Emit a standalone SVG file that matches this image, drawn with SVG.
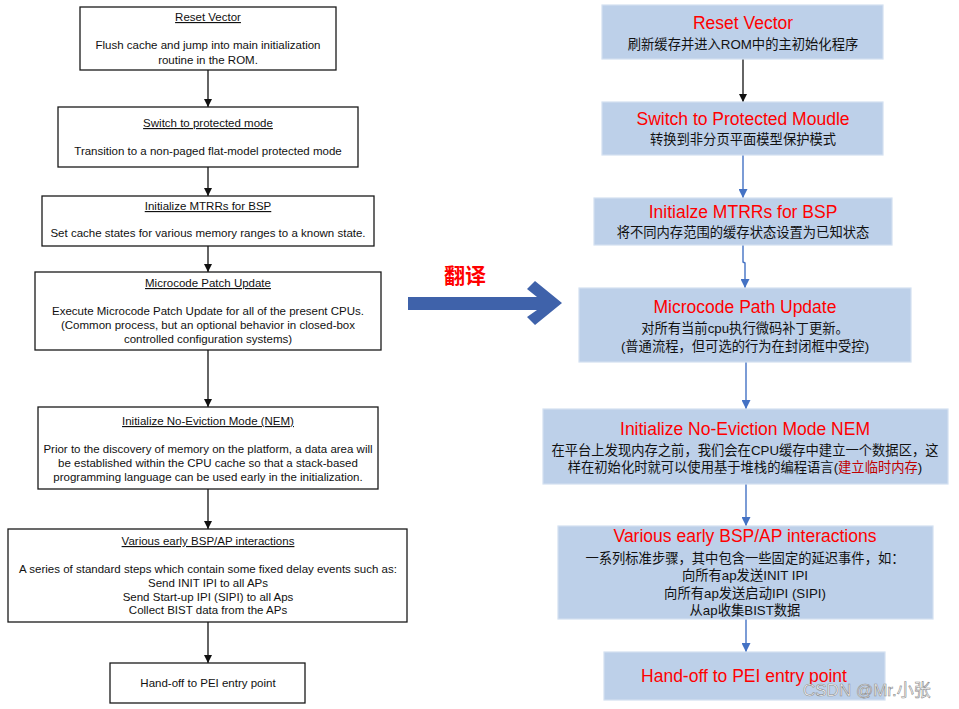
<svg xmlns="http://www.w3.org/2000/svg" width="959" height="709" viewBox="0 0 959 709">
<style>
  .lbox{fill:#ffffff;stroke:#1a1a1a;stroke-width:1.3}
  .lt{font-family:"Liberation Sans",Arial,sans-serif;font-size:11.5px;fill:#111;text-anchor:middle}
  .u{text-decoration:underline}
  .rbox{fill:#bdd0e9;stroke:#d3e0f1;stroke-width:1.2}
  .rt{font-family:"Liberation Sans","Noto Sans CJK SC",sans-serif;font-size:17.5px;fill:#ff0000;text-anchor:middle}
  .rs{font-family:"Liberation Sans","Noto Sans CJK SC",sans-serif;font-size:13.3px;fill:#111;text-anchor:middle}
  .red2{fill:#c00000}
  .lc{stroke:#111;stroke-width:1.3;fill:none}
  .bc{stroke:#4472c4;stroke-width:1.4;fill:none}
</style>
<defs>
  <marker id="ah" markerUnits="userSpaceOnUse" markerWidth="8" markerHeight="8" refX="8" refY="4" orient="auto">
    <path d="M0,0 L8,4 L0,8 z" fill="#111"/>
  </marker>
  <marker id="ahb" markerUnits="userSpaceOnUse" markerWidth="9" markerHeight="9" refX="9" refY="4.5" orient="auto">
    <path d="M0,0 L9,4.5 L0,9 z" fill="#4472c4"/>
  </marker>
</defs>
<rect width="959" height="709" fill="#ffffff"/>

<g id="connectors">
  <line class="lc" x1="208" y1="70" x2="208" y2="107" marker-end="url(#ah)"/>
  <line class="lc" x1="208" y1="167" x2="208" y2="196" marker-end="url(#ah)"/>
  <line class="lc" x1="208" y1="246" x2="208" y2="272" marker-end="url(#ah)"/>
  <line class="lc" x1="208" y1="350" x2="208" y2="407" marker-end="url(#ah)"/>
  <line class="lc" x1="208" y1="489" x2="208" y2="529" marker-end="url(#ah)"/>
  <line class="lc" x1="208" y1="622" x2="208" y2="663" marker-end="url(#ah)"/>

  <line class="lc" x1="743" y1="59" x2="743" y2="102" marker-end="url(#ah)"/>
  <line class="bc" x1="743" y1="155" x2="743" y2="198" marker-end="url(#ahb)"/>
  <polyline class="bc" points="743,245 743,262 745,263 745,288" marker-end="url(#ahb)"/>
  <line class="bc" x1="746" y1="362" x2="746" y2="409" marker-end="url(#ahb)"/>
  <line class="bc" x1="746" y1="484" x2="746" y2="526" marker-end="url(#ahb)"/>
  <line class="bc" x1="746" y1="619" x2="746" y2="652" marker-end="url(#ahb)"/>
</g>

<g id="translate-arrow">
  <polygon points="408,297 537,297 527,289 535,281 562,303 535,325 527,317 537,310 408,310" fill="#3f62aa"/>
  <text x="465" y="283" font-family="'Noto Sans CJK SC',sans-serif" font-size="21px" font-weight="bold" fill="#ff0000" text-anchor="middle">翻译</text>
</g>

<g id="l-reset">
  <rect class="lbox" x="80" y="7" width="256" height="63"/>
  <text class="lt u" x="208" y="21">Reset Vector</text>
  <text class="lt" x="208" y="49">Flush cache and jump into main initialization</text>
  <text class="lt" x="208" y="64">routine in the ROM.</text>
</g>
<g id="l-switch">
  <rect class="lbox" x="58" y="107" width="300" height="60"/>
  <text class="lt u" x="208" y="127">Switch to protected mode</text>
  <text class="lt" x="208" y="155">Transition to a non-paged flat-model protected mode</text>
</g>
<g id="l-mtrr">
  <rect class="lbox" x="42" y="196" width="332" height="50"/>
  <text class="lt u" x="208" y="210">Initialize MTRRs for BSP</text>
  <text class="lt" x="208" y="237">Set cache states for various memory ranges to a known state.</text>
</g>
<g id="l-micro">
  <rect class="lbox" x="35" y="272" width="346" height="78"/>
  <text class="lt u" x="208" y="287">Microcode Patch Update</text>
  <text class="lt" x="208" y="315">Execute Microcode Patch Update for all of the present CPUs.</text>
  <text class="lt" x="208" y="329">(Common process, but an optional behavior in closed-box</text>
  <text class="lt" x="208" y="343">controlled configuration systems)</text>
</g>
<g id="l-nem">
  <rect class="lbox" x="38" y="407" width="340" height="82"/>
  <text class="lt u" x="208" y="425">Initialize No-Eviction Mode (NEM)</text>
  <text class="lt" x="208" y="453">Prior to the discovery of memory on the platform, a data area will</text>
  <text class="lt" x="208" y="467">be established within the CPU cache so that a stack-based</text>
  <text class="lt" x="208" y="481">programming language can be used early in the initialization.</text>
</g>
<g id="l-bsp">
  <rect class="lbox" x="8" y="529" width="399" height="93"/>
  <text class="lt u" x="208" y="545">Various early BSP/AP interactions</text>
  <text class="lt" x="208" y="573">A series of standard steps which contain some fixed delay events such as:</text>
  <text class="lt" x="208" y="587">Send INIT IPI to all APs</text>
  <text class="lt" x="208" y="601">Send Start-up IPI (SIPI) to all Aps</text>
  <text class="lt" x="208" y="614">Collect BIST data from the APs</text>
</g>
<g id="l-handoff">
  <rect class="lbox" x="110" y="663" width="195" height="40"/>
  <text class="lt" x="208" y="687">Hand-off to PEI entry point</text>
</g>

<g id="r-reset">
  <rect class="rbox" x="602" y="5" width="281" height="54"/>
  <text class="rt" x="743" y="29">Reset Vector</text>
  <text class="rs" x="743" y="49">刷新缓存并进入ROM中的主初始化程序</text>
</g>
<g id="r-switch">
  <rect class="rbox" x="602" y="102" width="281" height="53"/>
  <text class="rt" x="743" y="125">Switch to Protected Moudle</text>
  <text class="rs" x="743" y="144">转换到非分页平面模型保护模式</text>
</g>
<g id="r-mtrr">
  <rect class="rbox" x="594" y="198" width="298" height="47"/>
  <text class="rt" x="743" y="218">Initialze MTRRs for BSP</text>
  <text class="rs" x="743" y="237">将不同内存范围的缓存状态设置为已知状态</text>
</g>
<g id="r-micro">
  <rect class="rbox" x="579" y="288" width="332" height="74"/>
  <text class="rt" x="745" y="313">Microcode Path Update</text>
  <text class="rs" x="745" y="333">对所有当前cpu执行微码补丁更新。</text>
  <text class="rs" x="745" y="351">(普通流程，但可选的行为在封闭框中受控)</text>
</g>
<g id="r-nem">
  <rect class="rbox" x="543" y="409" width="405" height="75"/>
  <text class="rt" x="745" y="435">Initialize No-Eviction Mode NEM</text>
  <text class="rs" x="745" y="455">在平台上发现内存之前，我们会在CPU缓存中建立一个数据区，这</text>
  <text class="rs" x="745" y="472">样在初始化时就可以使用基于堆栈的编程语言(<tspan class="red2">建立临时内存</tspan>)</text>
</g>
<g id="r-bsp">
  <rect class="rbox" x="558" y="526" width="375" height="93"/>
  <text class="rt" x="745" y="542">Various early BSP/AP interactions</text>
  <text class="rs" x="745" y="563">一系列标准步骤，其中包含一些固定的延迟事件，如：</text>
  <text class="rs" x="745" y="580">向所有ap发送INIT IPI</text>
  <text class="rs" x="745" y="598">向所有ap发送启动IPI (SIPI)</text>
  <text class="rs" x="745" y="615">从ap收集BIST数据</text>
</g>
<g id="r-handoff">
  <rect class="rbox" x="604" y="652" width="281" height="48"/>
  <text class="rt" x="744" y="682">Hand-off to PEI entry point</text>
</g>

<text x="803" y="696" font-family="'Liberation Sans','Noto Sans CJK SC',sans-serif" font-size="17px" fill="#ffffff" stroke="#8a8a8a" stroke-width="0.6">CSDN @Mr.小张</text>
</svg>
